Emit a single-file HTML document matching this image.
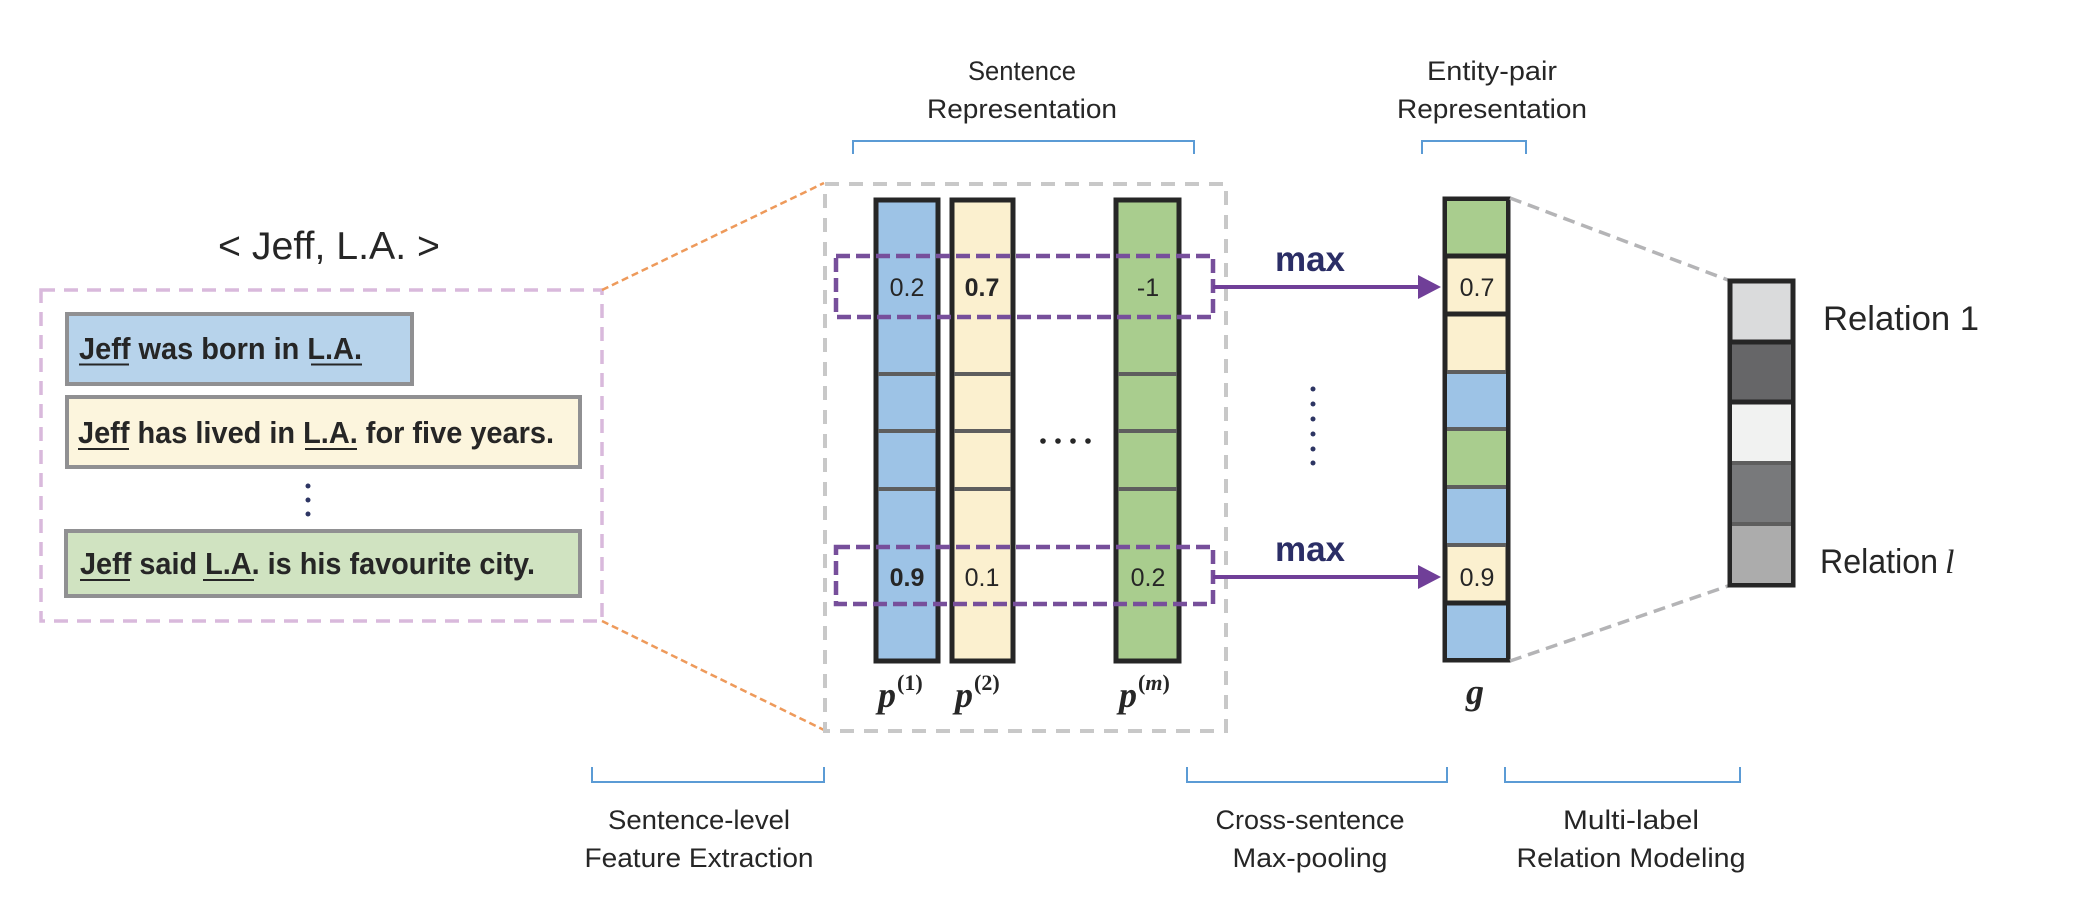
<!DOCTYPE html>
<html><head><meta charset="utf-8"><style>
html,body{margin:0;padding:0;background:#fff;}
svg{display:block;}
text{font-family:"Liberation Sans",sans-serif;fill:#262626;}
</style></head><body>
<svg width="2084" height="902" viewBox="0 0 2084 902" xmlns="http://www.w3.org/2000/svg">
<text x="329" y="259" font-size="39" text-anchor="middle" textLength="222" lengthAdjust="spacingAndGlyphs">&lt; Jeff, L.A. &gt;</text>
<rect x="41" y="290" width="561" height="331" fill="none" stroke="#d9b9dc" stroke-width="3.5" stroke-dasharray="14,9"/>
<rect x="67" y="314" width="345" height="70" fill="#b7d3eb" stroke="#909092" stroke-width="4"/>
<text x="79" y="359" font-size="31" font-weight="bold" textLength="283" lengthAdjust="spacingAndGlyphs">Jeff was born in L.A.</text>
<line x1="79" y1="364.5" x2="129" y2="364.5" stroke="#262626" stroke-width="2"/>
<line x1="311" y1="364.5" x2="362" y2="364.5" stroke="#262626" stroke-width="2"/>
<rect x="67" y="397" width="513" height="70" fill="#fcf5dd" stroke="#909092" stroke-width="4"/>
<text x="78" y="443" font-size="31" font-weight="bold" textLength="476" lengthAdjust="spacingAndGlyphs">Jeff has lived in L.A. for five years.</text>
<line x1="78" y1="449" x2="129" y2="449" stroke="#262626" stroke-width="2"/>
<line x1="305" y1="449" x2="357" y2="449" stroke="#262626" stroke-width="2"/>
<circle cx="308" cy="486" r="2.5" fill="#2d3563"/>
<circle cx="308" cy="500" r="2.5" fill="#2d3563"/>
<circle cx="308" cy="514" r="2.5" fill="#2d3563"/>
<rect x="66" y="531" width="514" height="65" fill="#d0e3c1" stroke="#909092" stroke-width="4"/>
<text x="80" y="574" font-size="31" font-weight="bold" textLength="455" lengthAdjust="spacingAndGlyphs">Jeff said L.A. is his favourite city.</text>
<line x1="80" y1="580" x2="130" y2="580" stroke="#262626" stroke-width="2"/>
<line x1="203" y1="580" x2="254" y2="580" stroke="#262626" stroke-width="2"/>
<line x1="602" y1="290" x2="824" y2="183" stroke="#ee9a5b" stroke-width="2.5" stroke-dasharray="7,4"/>
<line x1="602" y1="621" x2="824" y2="730" stroke="#ee9a5b" stroke-width="2.5" stroke-dasharray="7,4"/>
<rect x="825" y="184" width="401" height="547" fill="none" stroke="#c8c8c8" stroke-width="4" stroke-dasharray="14,10"/>
<g stroke="#262626" stroke-width="5">
<rect x="876" y="200" width="62" height="461" fill="#9dc3e6"/>
<rect x="952" y="200" width="61" height="461" fill="#fbf0cf"/>
<rect x="1116" y="200" width="63" height="461" fill="#a9cd8e"/>
</g>
<g stroke="#5e5e5e" stroke-width="4">
<line x1="878" y1="374" x2="936" y2="374"/><line x1="878" y1="431" x2="936" y2="431"/><line x1="878" y1="489" x2="936" y2="489"/>
<line x1="954" y1="374" x2="1011" y2="374"/><line x1="954" y1="431" x2="1011" y2="431"/><line x1="954" y1="489" x2="1011" y2="489"/>
<line x1="1118" y1="374" x2="1177" y2="374"/><line x1="1118" y1="431" x2="1177" y2="431"/><line x1="1118" y1="489" x2="1177" y2="489"/>
</g>
<g font-size="25" text-anchor="middle">
<text x="907" y="296">0.2</text>
<text x="982" y="296" font-weight="bold">0.7</text>
<text x="1148" y="296">-1</text>
<text x="907" y="586" font-weight="bold">0.9</text>
<text x="982" y="586">0.1</text>
<text x="1148" y="586">0.2</text>
</g>
<g fill="#262626"><circle cx="1043" cy="441" r="2.8"/><circle cx="1058" cy="441" r="2.8"/><circle cx="1073" cy="441" r="2.8"/><circle cx="1088" cy="441" r="2.8"/></g>
<rect x="836" y="256" width="377" height="61" fill="none" stroke="#774f9b" stroke-width="4.5" stroke-dasharray="14,6"/>
<rect x="836" y="547" width="377" height="57" fill="none" stroke="#774f9b" stroke-width="4.5" stroke-dasharray="14,6"/>
<g font-weight="bold">
<text x="878" y="707" font-size="36" font-style="italic" style="font-family:'Liberation Serif',serif">p</text><text x="897" y="690" font-size="22" style="font-family:'Liberation Serif',serif">(1)</text>
<text x="955" y="707" font-size="36" font-style="italic" style="font-family:'Liberation Serif',serif">p</text><text x="974" y="690" font-size="22" style="font-family:'Liberation Serif',serif">(2)</text>
<text x="1119" y="707" font-size="36" font-style="italic" style="font-family:'Liberation Serif',serif">p</text><text x="1138" y="690" font-size="22" style="font-family:'Liberation Serif',serif">(<tspan font-style="italic">m</tspan>)</text>
<text x="1466" y="704" font-size="36" font-style="italic" style="font-family:'Liberation Serif',serif">g</text>
</g>
<g stroke="#703f98" stroke-width="4"><line x1="1213" y1="287" x2="1422" y2="287"/><line x1="1213" y1="577" x2="1422" y2="577"/></g>
<polygon points="1418,275 1441,287 1418,299" fill="#703f98"/>
<polygon points="1418,565 1441,577 1418,589" fill="#703f98"/>
<text x="1310" y="271" font-size="35" font-weight="bold" text-anchor="middle" style="fill:#2b2e66">max</text>
<text x="1310" y="561" font-size="35" font-weight="bold" text-anchor="middle" style="fill:#2b2e66">max</text>
<g fill="#2d3563"><circle cx="1313" cy="389" r="2.5"/><circle cx="1313" cy="404" r="2.5"/><circle cx="1313" cy="419" r="2.5"/><circle cx="1313" cy="434" r="2.5"/><circle cx="1313" cy="449" r="2.5"/><circle cx="1313" cy="463" r="2.5"/></g>
<rect x="1445" y="199" width="63" height="461" fill="#fbf0cf" stroke="#262626" stroke-width="5"/>
<rect x="1447" y="201" width="59" height="55" fill="#a9cd8e"/>
<rect x="1447" y="372" width="59" height="57" fill="#9dc3e6"/>
<rect x="1447" y="429" width="59" height="58" fill="#a9cd8e"/>
<rect x="1447" y="487" width="59" height="58" fill="#9dc3e6"/>
<rect x="1447" y="603" width="59" height="55" fill="#9dc3e6"/>
<g stroke="#262626" stroke-width="5"><line x1="1447" y1="256" x2="1506" y2="256"/><line x1="1447" y1="314" x2="1506" y2="314"/><line x1="1447" y1="603" x2="1506" y2="603"/></g>
<g stroke="#5e5e5e" stroke-width="4"><line x1="1447" y1="372" x2="1506" y2="372"/><line x1="1447" y1="429" x2="1506" y2="429"/><line x1="1447" y1="487" x2="1506" y2="487"/><line x1="1447" y1="545" x2="1506" y2="545"/></g>
<text x="1477" y="296" font-size="25" text-anchor="middle">0.7</text>
<text x="1477" y="586" font-size="25" text-anchor="middle">0.9</text>
<line x1="1510" y1="198" x2="1728" y2="280" stroke="#b4b4b6" stroke-width="3.5" stroke-dasharray="12,7"/>
<line x1="1510" y1="661" x2="1728" y2="586" stroke="#b4b4b6" stroke-width="3.5" stroke-dasharray="12,7"/>
<rect x="1730" y="281" width="63" height="304" fill="#dadbdc" stroke="#262626" stroke-width="5"/>
<rect x="1732" y="342" width="59" height="60" fill="#666668"/>
<rect x="1732" y="402" width="59" height="61" fill="#f1f2f1"/>
<rect x="1732" y="463" width="59" height="61" fill="#78797b"/>
<rect x="1732" y="524" width="59" height="59" fill="#acacac"/>
<g stroke="#262626" stroke-width="5"><line x1="1732" y1="342" x2="1791" y2="342"/><line x1="1732" y1="402" x2="1791" y2="402"/></g>
<g stroke="#5e5e5e" stroke-width="4"><line x1="1732" y1="463" x2="1791" y2="463"/><line x1="1732" y1="524" x2="1791" y2="524"/></g>
<text x="1823" y="330" font-size="34" textLength="156" lengthAdjust="spacingAndGlyphs">Relation 1</text>
<text x="1820" y="573" font-size="34" textLength="118" lengthAdjust="spacingAndGlyphs">Relation</text><text x="1945" y="573" font-size="34" font-style="italic" style="font-family:'Liberation Serif',serif">l</text>
<g fill="none" stroke="#5b9bd5" stroke-width="2">
<polyline points="853,154 853,141 1194,141 1194,154"/>
<polyline points="1422,154 1422,141 1526,141 1526,154"/>
<polyline points="592,767 592,782 824,782 824,767"/>
<polyline points="1187,767 1187,782 1447,782 1447,767"/>
<polyline points="1505,767 1505,782 1740,782 1740,767"/>
</g>
<g font-size="27" text-anchor="middle">
<text x="1022" y="80" textLength="108" lengthAdjust="spacingAndGlyphs">Sentence</text>
<text x="1022" y="118" textLength="190" lengthAdjust="spacingAndGlyphs">Representation</text>
<text x="1492" y="80" textLength="130" lengthAdjust="spacingAndGlyphs">Entity-pair</text>
<text x="1492" y="118" textLength="190" lengthAdjust="spacingAndGlyphs">Representation</text>
<text x="699" y="829" textLength="182" lengthAdjust="spacingAndGlyphs">Sentence-level</text>
<text x="699" y="867" textLength="229" lengthAdjust="spacingAndGlyphs">Feature Extraction</text>
<text x="1310" y="829" textLength="189" lengthAdjust="spacingAndGlyphs">Cross-sentence</text>
<text x="1310" y="867" textLength="155" lengthAdjust="spacingAndGlyphs">Max-pooling</text>
<text x="1631" y="829" textLength="136" lengthAdjust="spacingAndGlyphs">Multi-label</text>
<text x="1631" y="867" textLength="229" lengthAdjust="spacingAndGlyphs">Relation Modeling</text>
</g>
</svg>
</body></html>
